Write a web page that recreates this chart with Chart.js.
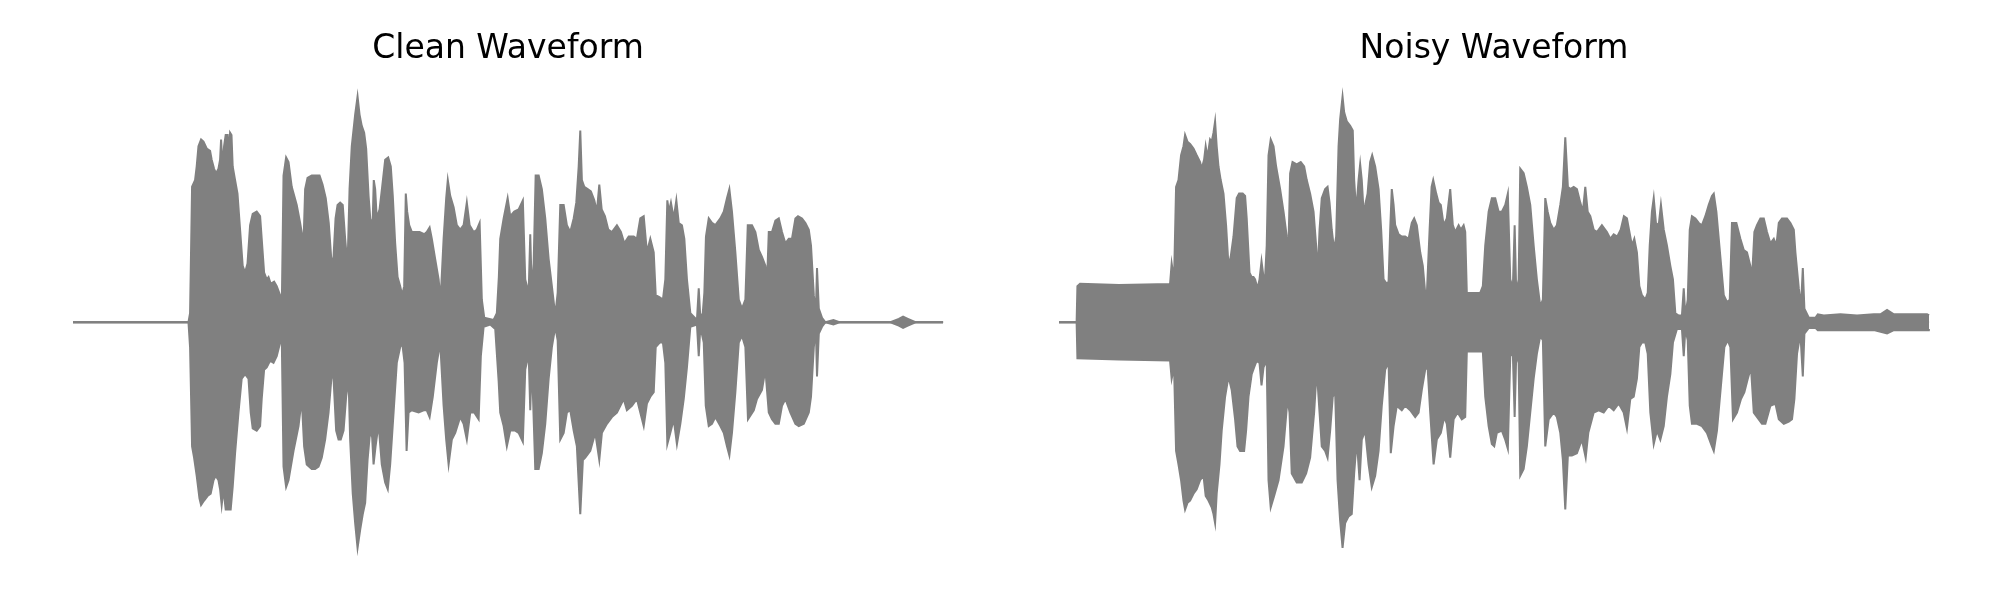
<!DOCTYPE html>
<html>
<head>
<meta charset="utf-8">
<title>Clean vs Noisy Waveform</title>
<script src="https://cdn.jsdelivr.net/npm/chart.js@4.4.1/dist/chart.umd.min.js"></script>
<style>
  html, body { margin: 0; padding: 0; background: #fff; }
  #wrap { position: relative; width: 2000px; height: 600px; }
  .panel { position: absolute; top: 0; width: 1000px; height: 600px; }
</style>
</head>
<body>
<div id="wrap">
  <div class="panel" style="left:0"><canvas id="cleanChart"></canvas></div>
  <div class="panel" style="left:1000px"><canvas id="noisyChart"></canvas></div>
</div>
<script>
// envelope of each waveform: [time (s), amplitude]
const cleanUpper = [
  [0,0],[0.577,0],[0.585,0.04],[0.595,0.60],[0.610,0.63],[0.618,0.69],[0.627,0.78],[0.640,0.81],[0.652,0.80],[0.668,0.77],
  [0.685,0.76],[0.693,0.72],[0.705,0.68],[0.715,0.66],[0.727,0.68],[0.735,0.72],[0.740,0.81],[0.747,0.69],[0.755,0.78],[0.763,0.83],
  [0.773,0.83],[0.778,0.74],[0.785,0.84],[0.792,0.83],[0.798,0.69],[0.810,0.63],[0.822,0.57],[0.835,0.41],[0.848,0.25],[0.860,0.22],
  [0.872,0.26],[0.885,0.43],[0.898,0.48],[0.918,0.49],[0.935,0.47],[0.943,0.37],[0.955,0.22],[0.968,0.19],[0.977,0.20],[0.988,0.17],
  [1.005,0.18],[1.018,0.16],[1.035,0.12],[1.043,0.04],[1.052,0.65],[1.065,0.73],[1.077,0.71],[1.093,0.60],[1.118,0.52],[1.135,0.44],
  [1.152,0.35],[1.160,0.59],[1.172,0.64],[1.193,0.65],[1.215,0.65],[1.232,0.65],[1.247,0.61],[1.263,0.55],[1.278,0.44],[1.293,0.25],
  [1.302,0.29],[1.312,0.46],[1.322,0.52],[1.335,0.53],[1.348,0.52],[1.360,0.37],[1.372,0.25],[1.382,0.59],[1.393,0.78],[1.410,0.92],
  [1.422,1.00],[1.432,0.92],[1.443,0.87],[1.455,0.84],[1.465,0.77],[1.477,0.56],[1.488,0.43],[1.498,0.46],[1.503,0.63],[1.510,0.59],
  [1.518,0.46],[1.532,0.50],[1.545,0.60],[1.560,0.72],[1.575,0.73],[1.588,0.69],[1.598,0.56],[1.610,0.35],[1.622,0.20],[1.635,0.16],
  [1.645,0.12],[1.655,0.16],[1.663,0.57],[1.670,0.49],[1.680,0.43],[1.693,0.40],[1.710,0.40],[1.732,0.40],[1.755,0.39],[1.768,0.40],
  [1.782,0.42],[1.793,0.37],[1.810,0.28],[1.827,0.19],[1.837,0.10],[1.852,0.37],[1.865,0.55],[1.873,0.63],[1.885,0.56],[1.902,0.51],
  [1.918,0.43],[1.935,0.41],[1.952,0.43],[1.968,0.53],[1.982,0.43],[2.002,0.40],[2.018,0.41],[2.032,0.44],[2.043,0.10],[2.055,0.02],
  [2.102,0.01],[2.118,0.04],[2.128,0.20],[2.135,0.37],[2.152,0.46],[2.172,0.55],[2.185,0.47],[2.205,0.49],[2.227,0.50],[2.248,0.54],
  [2.260,0.19],[2.277,0.13],[2.285,0.39],[2.293,0.13],[2.302,0.26],[2.312,0.65],[2.327,0.65],[2.343,0.59],[2.360,0.46],[2.377,0.28],
  [2.393,0.16],[2.410,0.03],[2.422,0.13],[2.435,0.52],[2.452,0.52],[2.468,0.43],[2.485,0.40],[2.502,0.46],[2.515,0.53],[2.527,0.69],
  [2.535,0.85],[2.543,0.63],[2.555,0.60],[2.572,0.59],[2.588,0.58],[2.605,0.54],[2.618,0.49],[2.630,0.61],[2.642,0.50],[2.658,0.47],
  [2.675,0.41],[2.693,0.40],[2.718,0.43],[2.738,0.40],[2.755,0.35],[2.777,0.38],[2.802,0.38],[2.818,0.37],[2.835,0.46],[2.852,0.47],
  [2.868,0.31],[2.885,0.37],[2.902,0.31],[2.912,0.12],[2.932,0.11],[2.948,0.10],[2.960,0.19],[2.970,0.54],[2.978,0.49],[2.988,0.53],
  [3.002,0.46],[3.015,0.54],[3.027,0.44],[3.043,0.43],[3.055,0.37],[3.068,0.19],[3.085,0.04],[3.118,0.01],[3.127,0.15],[3.135,0.02],
  [3.147,0.04],[3.155,0.13],[3.163,0.38],[3.177,0.46],[3.193,0.44],[3.210,0.43],[3.235,0.46],[3.252,0.49],[3.268,0.55],[3.280,0.59],
  [3.293,0.49],[3.310,0.31],[3.327,0.10],[3.343,0.06],[3.360,0.10],[3.372,0.43],[3.393,0.43],[3.410,0.40],[3.427,0.32],[3.443,0.29],
  [3.460,0.25],[3.468,0.17],[3.477,0.40],[3.493,0.40],[3.510,0.45],[3.527,0.46],[3.543,0.40],[3.560,0.35],[3.577,0.37],[3.593,0.37],
  [3.610,0.46],[3.623,0.47],[3.643,0.46],[3.660,0.44],[3.677,0.41],[3.688,0.34],[3.702,0.12],[3.712,0.04],[3.718,0.24],[3.727,0.06],
  [3.743,0.02],[3.760,0],[3.800,0.01],[3.830,0],[4.085,0],[4.127,0.015],[4.148,0.025],[4.172,0.015],[4.210,0],[4.348,0]
];

const cleanLower = [
  [0,0],[0.577,0],[0.585,-0.11],[0.595,-0.55],[0.605,-0.60],[0.618,-0.68],[0.632,-0.78],[0.640,-0.81],[0.655,-0.79],[0.672,-0.77],
  [0.688,-0.76],[0.702,-0.70],[0.713,-0.68],[0.727,-0.70],[0.735,-0.74],[0.743,-0.81],[0.752,-0.74],[0.763,-0.83],[0.777,-0.83],[0.788,-0.83],
  [0.798,-0.73],[0.810,-0.58],[0.827,-0.40],[0.843,-0.25],[0.860,-0.23],[0.877,-0.25],[0.888,-0.40],[0.898,-0.47],[0.918,-0.48],[0.935,-0.46],
  [0.943,-0.34],[0.955,-0.21],[0.968,-0.20],[0.985,-0.17],[1.002,-0.18],[1.018,-0.15],[1.035,-0.09],[1.043,-0.05],[1.052,-0.64],[1.065,-0.73],
  [1.077,-0.70],[1.102,-0.57],[1.127,-0.46],[1.143,-0.34],[1.155,-0.55],[1.168,-0.63],[1.193,-0.65],[1.210,-0.65],[1.227,-0.64],[1.243,-0.60],
  [1.260,-0.52],[1.277,-0.40],[1.293,-0.23],[1.302,-0.25],[1.315,-0.48],[1.327,-0.52],[1.338,-0.52],[1.352,-0.48],[1.365,-0.33],[1.377,-0.25],
  [1.385,-0.52],[1.398,-0.76],[1.410,-0.89],[1.422,-1.00],[1.435,-0.92],[1.448,-0.85],[1.460,-0.80],[1.472,-0.61],[1.485,-0.48],[1.495,-0.51],
  [1.502,-0.63],[1.512,-0.55],[1.527,-0.45],[1.543,-0.63],[1.560,-0.71],[1.573,-0.74],[1.585,-0.63],[1.602,-0.40],[1.618,-0.18],[1.635,-0.11],
  [1.645,-0.09],[1.657,-0.18],[1.667,-0.57],[1.677,-0.40],[1.693,-0.39],[1.727,-0.40],[1.752,-0.39],[1.768,-0.39],[1.782,-0.42],[1.798,-0.33],
  [1.818,-0.18],[1.835,-0.09],[1.852,-0.37],[1.865,-0.52],[1.877,-0.63],[1.893,-0.52],[1.910,-0.49],[1.935,-0.42],[1.952,-0.45],[1.968,-0.52],
  [1.985,-0.40],[2.005,-0.40],[2.027,-0.43],[2.038,-0.15],[2.052,-0.02],[2.085,-0.01],[2.110,-0.03],[2.127,-0.26],[2.135,-0.40],[2.152,-0.46],
  [2.168,-0.55],[2.185,-0.48],[2.210,-0.48],[2.227,-0.49],[2.248,-0.53],[2.260,-0.21],[2.277,-0.14],[2.285,-0.39],[2.293,-0.17],[2.310,-0.65],
  [2.327,-0.65],[2.343,-0.58],[2.360,-0.45],[2.377,-0.25],[2.393,-0.11],[2.410,-0.02],[2.422,-0.08],[2.435,-0.52],[2.452,-0.49],[2.468,-0.40],
  [2.485,-0.39],[2.502,-0.48],[2.518,-0.55],[2.535,-0.85],[2.548,-0.61],[2.560,-0.60],[2.585,-0.57],[2.610,-0.49],[2.630,-0.61],[2.643,-0.49],
  [2.668,-0.45],[2.693,-0.42],[2.718,-0.40],[2.752,-0.34],[2.768,-0.39],[2.793,-0.37],[2.818,-0.34],[2.835,-0.40],[2.852,-0.46],[2.868,-0.36],
  [2.885,-0.33],[2.902,-0.31],[2.912,-0.11],[2.932,-0.09],[2.948,-0.09],[2.960,-0.18],[2.970,-0.54],[2.985,-0.49],[3.002,-0.43],[3.018,-0.54],
  [3.035,-0.45],[3.052,-0.34],[3.068,-0.20],[3.085,-0.02],[3.118,-0.01],[3.127,-0.15],[3.135,-0.02],[3.152,-0.09],[3.162,-0.37],[3.177,-0.46],
  [3.193,-0.45],[3.210,-0.42],[3.235,-0.46],[3.252,-0.49],[3.268,-0.55],[3.280,-0.59],[3.293,-0.49],[3.310,-0.31],[3.327,-0.09],[3.343,-0.06],
  [3.360,-0.11],[3.373,-0.43],[3.402,-0.39],[3.418,-0.34],[3.443,-0.30],[3.460,-0.21],[3.477,-0.40],[3.493,-0.43],[3.510,-0.45],[3.527,-0.45],
  [3.543,-0.37],[3.560,-0.34],[3.585,-0.40],[3.610,-0.45],[3.627,-0.46],[3.652,-0.45],[3.677,-0.40],[3.688,-0.33],[3.702,-0.11],[3.712,-0.02],
  [3.718,-0.24],[3.727,-0.05],[3.743,-0.02],[3.760,0],[3.800,-0.01],[3.830,0],[4.085,0],[4.127,-0.015],[4.148,-0.025],[4.172,-0.015],
  [4.210,0],[4.348,0]
];

const noisyUpper = [
  [0,0],[0.088,0],[0.092,0.16],[0.105,0.17],[0.300,0.165],[0.555,0.17],[0.563,0.26],[0.575,0.19],[0.585,0.60],[0.597,0.63],
  [0.610,0.74],[0.622,0.78],[0.630,0.83],[0.642,0.80],[0.655,0.79],[0.672,0.77],[0.688,0.74],[0.705,0.71],[0.713,0.68],[0.725,0.72],
  [0.733,0.78],[0.742,0.73],[0.755,0.81],[0.763,0.80],[0.772,0.84],[0.780,0.89],[0.788,0.78],[0.797,0.69],[0.808,0.63],[0.822,0.57],
  [0.835,0.43],[0.847,0.25],[0.858,0.29],[0.872,0.38],[0.888,0.55],[0.900,0.57],[0.918,0.57],[0.930,0.56],[0.938,0.46],[0.952,0.22],
  [0.963,0.20],[0.972,0.20],[0.980,0.19],[0.992,0.15],[1.002,0.19],[1.012,0.27],[1.022,0.20],[1.030,0.20],[1.038,0.34],[1.047,0.74],
  [1.058,0.81],[1.072,0.78],[1.085,0.69],[1.105,0.59],[1.122,0.49],[1.138,0.38],[1.147,0.34],[1.155,0.66],[1.167,0.71],[1.188,0.70],
  [1.208,0.71],[1.225,0.69],[1.238,0.63],[1.255,0.57],[1.272,0.49],[1.285,0.34],[1.293,0.22],[1.302,0.41],[1.313,0.55],[1.330,0.59],
  [1.342,0.60],[1.352,0.53],[1.363,0.41],[1.375,0.32],[1.385,0.38],[1.397,0.78],[1.405,0.90],[1.417,1.00],[1.425,0.93],[1.438,0.89],
  [1.455,0.87],[1.468,0.85],[1.475,0.63],[1.485,0.49],[1.497,0.63],[1.505,0.70],[1.513,0.63],[1.522,0.49],[1.530,0.52],[1.542,0.57],
  [1.555,0.71],[1.565,0.74],[1.580,0.69],[1.597,0.59],[1.610,0.41],[1.622,0.19],[1.638,0.17],[1.647,0.18],[1.655,0.41],[1.663,0.59],
  [1.672,0.52],[1.680,0.43],[1.697,0.39],[1.713,0.38],[1.730,0.38],[1.747,0.37],[1.763,0.44],[1.775,0.46],[1.788,0.43],[1.805,0.31],
  [1.818,0.25],[1.830,0.13],[1.838,0.12],[1.852,0.41],[1.862,0.60],[1.870,0.63],[1.885,0.57],[1.897,0.53],[1.908,0.52],[1.922,0.43],
  [1.938,0.46],[1.947,0.53],[1.955,0.59],[1.968,0.43],[1.980,0.40],[1.997,0.43],[2.008,0.41],[2.022,0.43],[2.030,0.40],[2.038,0.13],
  [2.105,0.13],[2.118,0.16],[2.130,0.34],[2.147,0.49],[2.163,0.55],[2.180,0.55],[2.197,0.49],[2.213,0.49],[2.230,0.52],[2.243,0.57],
  [2.255,0.19],[2.268,0.15],[2.277,0.43],[2.285,0.13],[2.297,0.19],[2.305,0.68],[2.322,0.66],[2.338,0.60],[2.355,0.52],[2.372,0.34],
  [2.388,0.19],[2.405,0.07],[2.418,0.10],[2.430,0.55],[2.442,0.49],[2.455,0.44],[2.472,0.41],[2.488,0.43],[2.505,0.52],[2.518,0.60],
  [2.530,0.82],[2.543,0.60],[2.555,0.59],[2.572,0.60],[2.588,0.59],[2.605,0.53],[2.618,0.49],[2.630,0.60],[2.642,0.49],[2.655,0.47],
  [2.672,0.41],[2.688,0.40],[2.713,0.43],[2.738,0.40],[2.755,0.37],[2.772,0.39],[2.790,0.38],[2.807,0.41],[2.823,0.47],[2.838,0.46],
  [2.863,0.34],[2.875,0.37],[2.888,0.31],[2.900,0.16],[2.913,0.12],[2.930,0.10],[2.942,0.13],[2.952,0.34],[2.963,0.49],[2.972,0.55],
  [2.983,0.44],[2.997,0.43],[3.008,0.52],[3.022,0.41],[3.038,0.34],[3.055,0.25],[3.068,0.19],[3.080,0.04],[3.097,0.03],[3.113,0.03],
  [3.122,0.15],[3.130,0.03],[3.142,0.10],[3.152,0.41],[3.163,0.47],[3.180,0.46],[3.197,0.44],[3.213,0.43],[3.230,0.47],[3.247,0.52],
  [3.263,0.56],[3.272,0.57],[3.285,0.49],[3.305,0.29],[3.322,0.12],[3.338,0.09],[3.352,0.10],[3.363,0.44],[3.385,0.44],[3.405,0.37],
  [3.422,0.32],[3.438,0.31],[3.455,0.25],[3.463,0.19],[3.475,0.40],[3.488,0.43],[3.505,0.46],[3.522,0.46],[3.538,0.40],[3.555,0.35],
  [3.572,0.37],[3.585,0.34],[3.597,0.44],[3.613,0.46],[3.638,0.46],[3.655,0.44],[3.672,0.41],[3.680,0.31],[3.697,0.15],[3.708,0.07],
  [3.717,0.24],[3.725,0.06],[3.747,0.02],[3.780,0.02],[3.792,0.035],[3.822,0.03],[3.905,0.035],[3.988,0.03],[4.072,0.035],[4.105,0.035],
  [4.138,0.055],[4.172,0.035],[4.238,0.035],[4.338,0.035],[4.348,0.03]
];

const noisyLower = [
  [0,0],[0.088,0],[0.092,-0.16],[0.300,-0.165],[0.555,-0.17],[0.563,-0.25],[0.575,-0.20],[0.585,-0.57],[0.597,-0.63],[0.610,-0.70],
  [0.622,-0.79],[0.630,-0.83],[0.642,-0.80],[0.655,-0.79],[0.672,-0.76],[0.688,-0.74],[0.705,-0.70],[0.722,-0.68],[0.733,-0.77],[0.747,-0.79],
  [0.763,-0.82],[0.772,-0.85],[0.780,-0.89],[0.788,-0.76],[0.802,-0.63],[0.813,-0.48],[0.830,-0.33],[0.847,-0.24],[0.863,-0.30],[0.880,-0.43],
  [0.892,-0.55],[0.905,-0.57],[0.925,-0.57],[0.935,-0.48],[0.947,-0.33],[0.963,-0.23],[0.975,-0.20],[0.988,-0.17],[1.002,-0.18],[1.012,-0.28],
  [1.022,-0.20],[1.038,-0.17],[1.047,-0.70],[1.058,-0.82],[1.075,-0.77],[1.097,-0.70],[1.122,-0.55],[1.142,-0.34],[1.152,-0.40],[1.163,-0.67],
  [1.188,-0.71],[1.213,-0.71],[1.235,-0.67],[1.255,-0.60],[1.275,-0.40],[1.288,-0.21],[1.302,-0.40],[1.313,-0.55],[1.330,-0.57],[1.342,-0.60],
  [1.355,-0.48],[1.368,-0.33],[1.380,-0.31],[1.392,-0.70],[1.405,-0.88],[1.417,-1.00],[1.430,-0.89],[1.447,-0.86],[1.463,-0.85],[1.475,-0.67],
  [1.488,-0.52],[1.502,-0.70],[1.513,-0.52],[1.530,-0.48],[1.547,-0.63],[1.563,-0.73],[1.580,-0.68],[1.597,-0.57],[1.613,-0.37],[1.630,-0.21],
  [1.647,-0.18],[1.658,-0.58],[1.672,-0.46],[1.688,-0.37],[1.713,-0.39],[1.730,-0.37],[1.755,-0.39],[1.780,-0.42],[1.797,-0.40],[1.813,-0.30],
  [1.830,-0.21],[1.842,-0.20],[1.855,-0.40],[1.872,-0.63],[1.888,-0.52],[1.908,-0.49],[1.925,-0.42],[1.938,-0.45],[1.955,-0.60],[1.972,-0.43],
  [1.992,-0.40],[2.013,-0.43],[2.030,-0.42],[2.038,-0.13],[2.118,-0.13],[2.130,-0.33],[2.147,-0.46],[2.163,-0.54],[2.175,-0.55],[2.188,-0.49],
  [2.213,-0.48],[2.230,-0.52],[2.243,-0.56],[2.255,-0.15],[2.268,-0.14],[2.277,-0.42],[2.285,-0.14],[2.297,-0.18],[2.305,-0.68],[2.322,-0.65],
  [2.338,-0.55],[2.355,-0.40],[2.372,-0.25],[2.388,-0.14],[2.405,-0.06],[2.418,-0.08],[2.430,-0.55],[2.447,-0.43],[2.472,-0.40],[2.488,-0.42],
  [2.505,-0.49],[2.518,-0.61],[2.530,-0.83],[2.543,-0.59],[2.563,-0.59],[2.588,-0.58],[2.613,-0.52],[2.632,-0.60],[2.645,-0.49],[2.672,-0.40],
  [2.697,-0.39],[2.722,-0.40],[2.747,-0.37],[2.772,-0.39],[2.797,-0.36],[2.822,-0.40],[2.838,-0.47],[2.855,-0.34],[2.872,-0.33],[2.888,-0.25],
  [2.900,-0.11],[2.913,-0.09],[2.930,-0.09],[2.942,-0.14],[2.955,-0.40],[2.972,-0.54],[2.988,-0.48],[3.005,-0.52],[3.022,-0.46],[3.038,-0.33],
  [3.055,-0.23],[3.068,-0.09],[3.088,-0.03],[3.113,-0.03],[3.122,-0.15],[3.130,-0.03],[3.142,-0.08],[3.152,-0.37],[3.163,-0.45],[3.188,-0.45],
  [3.213,-0.46],[3.238,-0.49],[3.263,-0.55],[3.272,-0.57],[3.288,-0.48],[3.308,-0.28],[3.325,-0.11],[3.342,-0.08],[3.355,-0.11],[3.368,-0.43],
  [3.388,-0.40],[3.408,-0.34],[3.425,-0.31],[3.442,-0.25],[3.458,-0.20],[3.472,-0.40],[3.497,-0.43],[3.513,-0.45],[3.530,-0.45],[3.555,-0.37],
  [3.580,-0.36],[3.597,-0.43],[3.622,-0.45],[3.647,-0.44],[3.663,-0.43],[3.675,-0.34],[3.688,-0.14],[3.705,-0.05],[3.717,-0.24],[3.725,-0.05],
  [3.747,-0.025],[3.780,-0.025],[3.792,-0.035],[3.905,-0.035],[4.072,-0.035],[4.138,-0.05],[4.172,-0.035],[4.347,-0.035],[4.348,-0.03]
];

// silent baseline spans the full clip
const baseline = [[0, 0], [4.348, 0]];

const panelTitles = ["Clean Waveform", "Noisy Waveform"];
const waveColor = "#808080";

function toXY(pairs) {
  return pairs.map(([x, y]) => ({ x, y }));
}

function envelope(pairs, fill) {
  return {
    data: toXY(pairs),
    borderColor: waveColor,
    backgroundColor: waveColor,
    borderWidth: 2,
    pointRadius: 0,
    tension: 0,
    fill
  };
}

function makeWave(canvasId, title, upper, lower, padLeft, padRight) {
  return new Chart(document.getElementById(canvasId), {
    type: "line",
    data: {
      datasets: [
        envelope(upper, "origin"),
        envelope(lower, "origin"),
        envelope(baseline, false)
      ]
    },
    options: {
      responsive: true,
      maintainAspectRatio: false,
      animation: false,
      parsing: false,
      layout: { padding: { left: padLeft, right: padRight, top: 0, bottom: 29.5 } },
      plugins: {
        legend: { display: false },
        tooltip: { enabled: false },
        title: {
          display: true,
          text: title,
          color: "#000",
          font: { family: "'DejaVu Sans'", size: 33, weight: "normal", lineHeight: 1.2 },
          padding: { top: 29.5, bottom: 4.9 }
        }
      },
      scales: {
        x: { type: "linear", min: -0.2174, max: 4.565, display: false },
        y: { type: "linear", min: -1.1, max: 1.1, display: false }
      }
    }
  });
}

makeWave("cleanChart", panelTitles[0], cleanUpper, cleanLower, 29.5, 13.5);
makeWave("noisyChart", panelTitles[1], noisyUpper, noisyLower, 15.5, 27.5);
</script>
</body>
</html>
